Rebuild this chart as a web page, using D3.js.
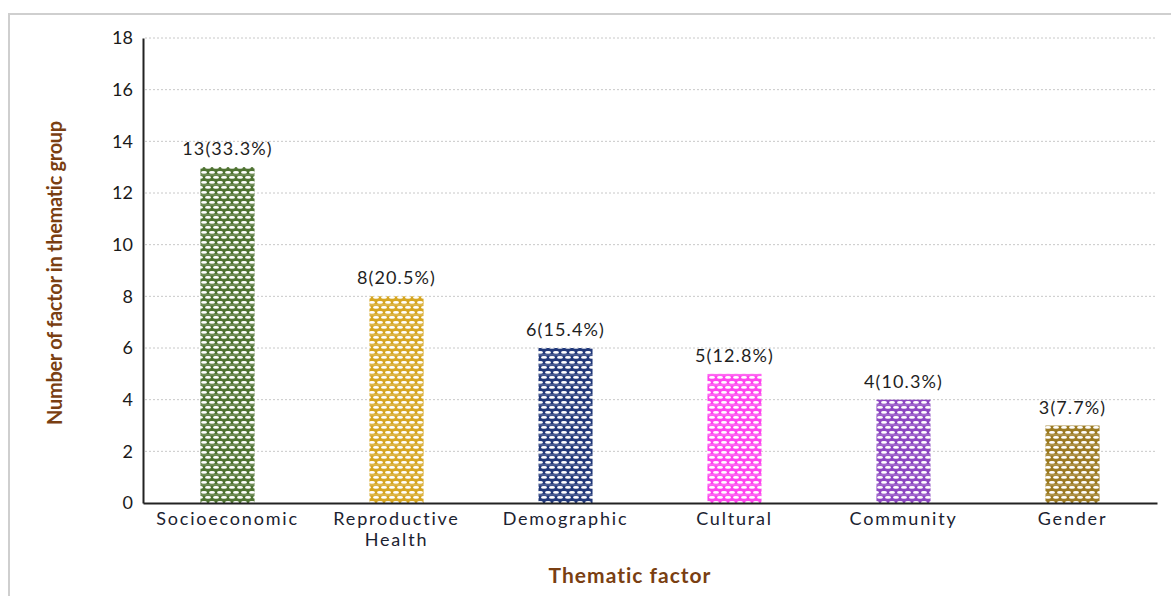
<!DOCTYPE html>
<html>
<head>
<meta charset="utf-8">
<script src="https://cdn.jsdelivr.net/npm/d3@7"></script>
<style>
  html, body { margin: 0; padding: 0; background: #fff; }
  svg { display: block; }
  text { font-family: Lato, "Open Sans", sans-serif; }
</style>
</head>
<body>
<svg id="chart" width="1171" height="596"></svg>
<script>
// Thematic factor groups and their counts
const categories = ["Socioeconomic", "Reproductive\nHealth", "Demographic", "Cultural", "Community", "Gender"];
const counts = [13, 8, 6, 5, 4, 3];
const shares = ["33.3%", "20.5%", "15.4%", "12.8%", "10.3%", "7.7%"];
const barColors = ["#4f7332", "#d6a621", "#22397a", "#ff45ef", "#8c47c2", "#9c7b22"];
const yTicks = [0, 2, 4, 6, 8, 10, 12, 14, 16, 18];

const svg = d3.select("#chart");
const W = 1171, H = 596;
const margin = { left: 143, right: 14, top: 38, bottom: 93 };

// outer frame
svg.append("path")
  .attr("d", `M9,${H} V14 H${W}`)
  .attr("fill", "none").attr("stroke", "#cfcfcf").attr("stroke-width", 2);

const x = d3.scaleBand()
  .domain(categories)
  .range([margin.left, W - margin.right])
  .paddingInner(0.68).paddingOuter(0.34);

const y = d3.scaleLinear()
  .domain([0, 18])
  .range([H - margin.bottom, margin.top]);

// net-like fill patterns, one per bar colour
const defs = svg.append("defs");
barColors.forEach((c, i) => {
  const p = defs.append("pattern")
    .attr("id", "net" + i)
    .attr("patternUnits", "userSpaceOnUse")
    .attr("width", 8).attr("height", 10);
  p.append("rect").attr("width", 8).attr("height", 10).attr("fill", c);
  [[4, 2.4], [0, 7.4], [8, 7.4]].forEach(([cx, cy]) => {
    p.append("ellipse").attr("cx", cx).attr("cy", cy)
      .attr("rx", 3).attr("ry", 1.4).attr("fill", "#fff");
  });
  p.append("rect").attr("x", 0).attr("y", 4.6).attr("width", 8).attr("height", 0.7)
    .attr("fill", "#fff").attr("opacity", 0.45);
});

// gridlines
svg.append("g")
  .selectAll("line")
  .data(yTicks.filter(d => d > 0))
  .join("line")
  .attr("x1", margin.left + 2).attr("x2", W - margin.right)
  .attr("y1", d => y(d)).attr("y2", d => y(d))
  .attr("stroke", "#c8c8c8").attr("stroke-width", 1)
  .attr("stroke-dasharray", "2,2");

// bars
svg.append("g")
  .selectAll("rect")
  .data(categories)
  .join("rect")
  .attr("x", d => x(d))
  .attr("width", x.bandwidth())
  .attr("y", (d, i) => y(counts[i]))
  .attr("height", (d, i) => y(0) - y(counts[i]))
  .attr("fill", (d, i) => `url(#net${i})`);

// value labels
svg.append("g")
  .selectAll("text")
  .data(categories)
  .join("text")
  .attr("x", d => x(d) + x.bandwidth() / 2)
  .attr("y", (d, i) => y(counts[i]) - 12)
  .attr("text-anchor", "middle")
  .attr("font-size", 18)
  .attr("letter-spacing", 1.1)
  .attr("fill", "#1e1e1e")
  .text((d, i) => `${counts[i]}(${shares[i]})`);

// y axis
const yAxis = d3.axisLeft(y).tickValues(yTicks).tickSize(0).tickPadding(10);
const gy = svg.append("g")
  .attr("transform", `translate(${margin.left},0)`)
  .call(yAxis);
gy.select(".domain").attr("stroke", "#222").attr("stroke-width", 2);
gy.selectAll(".tick text")
  .attr("font-family", "Lato, sans-serif")
  .attr("font-size", 18).attr("fill", "#1a1a1a");

// x axis
const xAxis = d3.axisBottom(x).tickSize(0).tickPadding(0).tickFormat("");
const gx = svg.append("g")
  .attr("transform", `translate(0,${y(0)})`)
  .call(xAxis);
gx.select(".domain").attr("stroke", "#222").attr("stroke-width", 2);

// category labels (multi-line)
const catG = svg.append("g");
categories.forEach(c => {
  const t = catG.append("text")
    .attr("x", x(c) + x.bandwidth() / 2)
    .attr("y", y(0) + 22)
    .attr("text-anchor", "middle")
    .attr("font-size", 18)
    .attr("letter-spacing", 1.8)
    .attr("fill", "#1b2230");
  c.split("\n").forEach((line, k) => {
    t.append("tspan")
      .attr("x", x(c) + x.bandwidth() / 2)
      .attr("dy", k === 0 ? 0 : 21)
      .text(line);
  });
});

// axis titles
svg.append("text")
  .attr("x", 630)
  .attr("y", 583)
  .attr("text-anchor", "middle")
  .attr("font-size", 21).attr("font-weight", 700)
  .attr("letter-spacing", 1)
  .attr("fill", "#7a3f12")
  .text("Thematic factor");

svg.append("text")
  .attr("transform", `translate(62,${273}) rotate(-90)`)
  .attr("text-anchor", "middle")
  .attr("font-size", 20).attr("font-weight", 700)
  .attr("letter-spacing", -0.3)
  .attr("fill", "#7a3f12")
  .text("Number of factor in thematic group");
</script>
</body>
</html>
